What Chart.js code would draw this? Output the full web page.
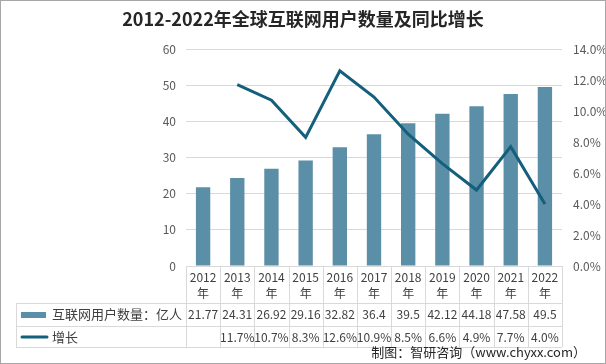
<!DOCTYPE html>
<html>
<head>
<meta charset="utf-8">
<script src="https://cdn.jsdelivr.net/npm/chart.js@4/dist/chart.umd.min.js"></script>
<style>
html, body { margin: 0; padding: 0; background: #fff; }
#wrap { position: relative; width: 604px; height: 362px; border: 1px solid #a6a6a6; }
</style>
</head>
<body>
<div id="wrap"><canvas id="chart" width="604" height="362"></canvas></div>
<script>
var years = ["2012", "2013", "2014", "2015", "2016", "2017", "2018", "2019", "2020", "2021", "2022"];
var users = [21.77, 24.31, 26.92, 29.16, 32.82, 36.4, 39.5, 42.12, 44.18, 47.58, 49.5];
var growth = [null, 11.7, 10.7, 8.3, 12.6, 10.9, 8.5, 6.6, 4.9, 7.7, 4.0];
var usersLabel = "互联网用户数量：亿人";
var growthLabel = "增长";

var barColor = "#5b8fa8";
var lineColor = "#135f7c";
var gridColor = "#d9d9d9";
var font = "'Noto Sans CJK SC', 'Noto Sans', sans-serif";

// title, data table under the plot and the source line
var tablePlugin = {
    id: "table",
    afterDraw: function(chart){
        var ctx = chart.ctx;
        var x = chart.scales.x;
        var area = chart.chartArea;
        var colW = x.getPixelForValue(1) - x.getPixelForValue(0);
        var top = area.bottom, r1 = 302, r2 = 325, r3 = 346, left = 15;
        ctx.save();
        ctx.fillStyle = "#262626";
        ctx.font = "bold 18px " + font;
        ctx.textAlign = "center";
        ctx.textBaseline = "middle";
        ctx.fillText("2012-2022年全球互联网用户数量及同比增长", 302, 18);

        ctx.strokeStyle = gridColor;
        ctx.lineWidth = 1;
        ctx.beginPath();
        for(var i=0;i<=years.length;i++){
            var bx = Math.round(area.left + i*colW) + 0.5;
            ctx.moveTo(bx, top); ctx.lineTo(bx, r3);
        }
        ctx.moveTo(left + 0.5, r1); ctx.lineTo(left + 0.5, r3);
        [r1, r2, r3].forEach(function(y){
            ctx.moveTo(left, y + 0.5); ctx.lineTo(area.right, y + 0.5);
        });
        ctx.stroke();

        ctx.fillStyle = "#404040";
        ctx.font = "12px " + font;
        for(var i=0;i<years.length;i++){
            var cx = x.getPixelForValue(i);
            ctx.fillText(years[i], cx, 276);
            ctx.fillText("年", cx, 292);
            ctx.fillText(String(users[i]), cx, 313);
            if(growth[i] != null){
                ctx.fillText(growth[i].toFixed(1) + "%", cx, 336);
            }
        }

        ctx.fillStyle = barColor;
        ctx.fillRect(20, 311, 25, 6);
        ctx.strokeStyle = lineColor;
        ctx.lineWidth = 3;
        ctx.lineCap = "round";
        ctx.beginPath();
        ctx.moveTo(21, 336); ctx.lineTo(46, 336);
        ctx.stroke();

        ctx.fillStyle = "#404040";
        ctx.font = "13px " + font;
        ctx.textAlign = "left";
        ctx.fillText(usersLabel, 51, 313);
        ctx.fillText(growthLabel, 51, 336);

        ctx.fillStyle = "#262626";
        ctx.textAlign = "right";
        ctx.fillText("制图：智研咨询（www.chyxx.com）", 585, 351);
        ctx.restore();
    }
};

var chart = new Chart(document.getElementById("chart"), {
    type: "bar",
    data: {
        labels: years,
        datasets: [{
            label: usersLabel,
            data: users,
            backgroundColor: barColor,
            barPercentage: 0.42,
            categoryPercentage: 1,
            yAxisID: "y",
            order: 2
        }, {
            type: "line",
            label: growthLabel,
            data: growth,
            borderColor: lineColor,
            borderWidth: 3,
            pointRadius: 0,
            tension: 0,
            yAxisID: "y1",
            order: 1
        }]
    },
    options: {
        responsive: false,
        animation: false,
        layout: { padding: { top: 48, bottom: 97, left: 0, right: 0 } },
        plugins: {
            legend: { display: false },
            tooltip: { enabled: false }
        },
        scales: {
            x: { display: false, offset: true },
            y: {
                min: 0, max: 60,
                ticks: { stepSize: 10, color: "#595959", padding: 10, font: { size: 12, family: font } },
                grid: { color: gridColor, drawTicks: false },
                border: { display: false },
                afterFit: function(scale){ scale.width = 185; }
            },
            y1: {
                position: "right",
                min: 0, max: 14,
                ticks: {
                    stepSize: 2, color: "#595959", padding: 11, font: { size: 12, family: font },
                    callback: function(v){ return v.toFixed(1) + "%"; }
                },
                grid: { display: false, drawTicks: false },
                border: { display: false },
                afterFit: function(scale){ scale.width = 43; }
            }
        }
    },
    plugins: [tablePlugin]
});
</script>
</body>
</html>
